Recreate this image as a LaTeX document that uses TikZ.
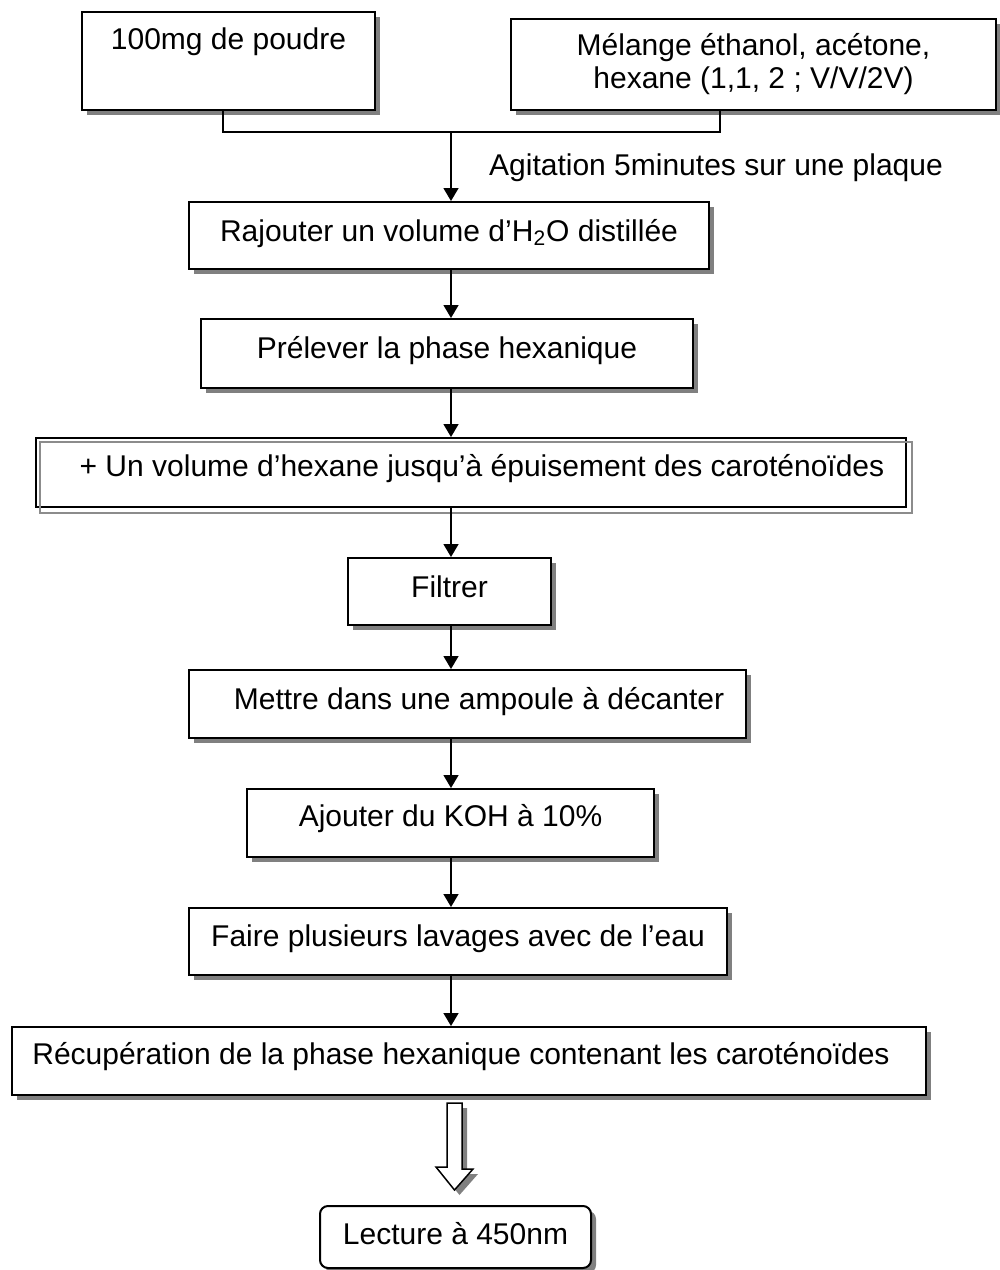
\documentclass[tikz,border=0pt]{standalone}
\usepackage{fontspec}
\setmainfont{Liberation Sans}
\usetikzlibrary{arrows.meta,shadows,calc}

\begin{document}
\begin{tikzpicture}[x=0.5pt,y=-0.5pt,
  font=\fontsize{15}{16.5}\selectfont,
  shade/.style={drop shadow={shadow xshift=2.5pt, shadow yshift=-2.5pt, fill=black!50, opacity=1}},
  stepbox/.style={draw, line width=1pt, fill=white, rectangle, inner xsep=0pt, inner ysep=0pt,
    anchor=north west, shade},
  framebox/.style={draw, line width=1pt, rectangle, inner xsep=0pt, inner ysep=0pt, anchor=north west},
  line/.style={line width=0.75pt},
  link/.style={line width=0.75pt, -{Triangle[length=6.5pt,width=7.5pt]}},
  hollow/.style={draw, line width=0.75pt, fill=white, shade},
]
\useasboundingbox (0,0) rectangle (1000,1270);

% column of the connectors
\coordinate (j) at (451,132);
\coordinate (j1) at (223,132);
\coordinate (j2) at (720,132);
\coordinate (h) at (454.5,0);

% starting materials
\node[stepbox, minimum width=146.5pt, text height=18.5pt, text depth=30.5pt] (b1) at (81,11) {100mg de poudre};
\node[stepbox, minimum width=242.5pt, minimum height=45.5pt, align=center] (b2) at (510,18)
  {Mélange éthanol, acétone,\\hexane (1,1, 2 ; V/V/2V)};

% extraction steps
\node[stepbox, minimum width=260pt, text height=19.5pt, text depth=14pt] (b3) at (188,201)
  {Rajouter un volume d’H\textsubscript{2}O distillée};
\node[stepbox, minimum width=246pt, text height=19.5pt, text depth=15pt] (b4) at (200,318)
  {Prélever la phase hexanique};
\node[framebox, minimum width=435pt, text height=19pt, text depth=15.5pt] (b5) at (35,437)
  {\hspace*{11pt}+ Un volume d’hexane jusqu’à épuisement des caroténoïdes};
\draw[black!45, line width=0.75pt] ($(b5.north west)+(5,5)$) rectangle ($(b5.south east)+(5,5)$);
\node[stepbox, minimum width=101.5pt, text height=19.5pt, text depth=14pt] (b6) at (347,557) {Filtrer};
\node[stepbox, minimum width=278.5pt, text height=19.5pt, text depth=14.5pt] (b7) at (188,669)
  {\hspace*{11.5pt}Mettre dans une ampoule à décanter};
\node[stepbox, minimum width=203.5pt, text height=18.5pt, text depth=15.5pt] (b8) at (246,788)
  {Ajouter du KOH à 10\%};
\node[stepbox, minimum width=269pt, text height=19pt, text depth=14.5pt] (b9) at (188,907)
  {Faire plusieurs lavages avec de l’eau};
\node[stepbox, minimum width=457pt, text height=18.5pt, text depth=15.5pt] (b10) at (11,1026)
  {Récupération de la phase hexanique contenant les caroténoïdes\hspace*{8pt}};
\node[stepbox, rounded corners=4pt, minimum width=135.5pt, text height=19pt, text depth=12pt] (b11) at (319,1205)
  {Lecture à 450nm};

\node[anchor=base] (agit) at (716,175) {Agitation 5minutes sur une plaque};

% connectors
\draw[line] (b1.south -| j1) -- (j1) -- (j2) -- (b2.south -| j2);
\draw[link] (j) -- (b3.north -| j);
\draw[link] (b3.south -| j) -- (b4.north -| j);
\draw[link] (b4.south -| j) -- (b5.north -| j);
\draw[link] (b5.south -| j) -- (b6.north -| j);
\draw[link] (b6.south -| j) -- (b7.north -| j);
\draw[link] (b7.south -| j) -- (b8.north -| j);
\draw[link] (b8.south -| j) -- (b9.north -| j);
\draw[link] (b9.south -| j) -- (b10.north -| j);

% hollow arrow towards the reading
\path[hollow] ($(b10.south -| h)+(-7.5,7)$) -- ++(15,0) -- ++(0,66) -- ++(11,0)
  -- ($(b11.north -| h)+(0,-15)$) -- ++(-18.5,-23) -- ++(11,0) -- cycle;
\end{tikzpicture}
\end{document}
